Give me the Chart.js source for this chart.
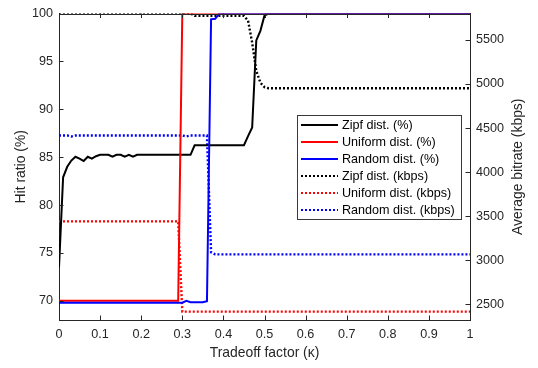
<!DOCTYPE html>
<html><head><meta charset="utf-8">
<script src="https://cdn.jsdelivr.net/npm/chart.js@4"></script>
<style>html,body{margin:0;padding:0;background:#fff;}#wrap{width:538px;height:368px;position:relative;}</style>
</head><body><div id="wrap"><canvas id="c" width="538" height="368"></canvas></div>
<script>
// ---- tick values / labels ----
const xTicks = [0, 0.1, 0.2, 0.3, 0.4, 0.5, 0.6, 0.7, 0.8, 0.9, 1];
const xTickLabels = ['0', '0.1', '0.2', '0.3', '0.4', '0.5', '0.6', '0.7', '0.8', '0.9', '1'];
const hitTicks = [70, 75, 80, 85, 90, 95, 100];
const kbpsTicks = [2500, 3000, 3500, 4000, 4500, 5000, 5500];

// ---- series (tradeoff factor kappa -> value) ----
const zipfHitX = [0, 0.01, 0.02, 0.03, 0.04, 0.05, 0.06, 0.07, 0.08, 0.09, 0.10, 0.12, 0.13, 0.14, 0.15, 0.16, 0.17, 0.18, 0.19, 0.32, 0.33, 0.45, 0.46, 0.47, 0.48, 0.49, 0.50, 0.51, 1.0];
const zipfHitY = [73.5, 82.9, 84.0, 84.65, 85.05, 84.85, 84.6, 85.05, 84.85, 85.1, 85.25, 85.25, 85.05, 85.25, 85.25, 85.05, 85.25, 85.05, 85.25, 85.25, 86.25, 86.25, 87.2, 88.1, 97.2, 98.2, 99.8, 100, 100];

const uniHitX = [0, 0.29, 0.30, 1.0];
const uniHitY = [70.0, 70.0, 100, 100];

const randHitX = [0, 0.30, 0.31, 0.32, 0.35, 0.36, 0.37, 0.38, 0.39, 1.0];
const randHitY = [69.8, 69.8, 70.0, 69.85, 69.85, 69.95, 99.4, 99.45, 100, 100];

const zipfRateX = [0, 0.32, 0.33, 0.45, 0.46, 0.47, 0.48, 0.49, 0.50, 0.51, 1.0];
const zipfRateY = [5800, 5800, 5775, 5775, 5720, 5470, 5150, 5015, 4965, 4952, 4952];

const uniRateX = [0, 0.29, 0.30, 1.0];
const uniRateY = [3440, 3440, 2415, 2415];

const randRateX = [0, 0.02, 0.03, 0.04, 0.30, 0.31, 0.32, 0.36, 0.37, 0.38, 1.0];
const randRateY = [4415, 4415, 4405, 4415, 4415, 4405, 4415, 4415, 3090, 3065, 3065];

const seriesLabels = ['Zipf dist. (%)', 'Uniform dist. (%)', 'Random dist. (%)', 'Zipf dist. (kbps)', 'Uniform dist. (kbps)', 'Random dist. (kbps)'];

const FONT = '"Liberation Sans", Arial, Helvetica, sans-serif';
const AX = '#262626';

function pts(xs, ys) { return xs.map((x, i) => ({x: x, y: ys[i]})); }

function ds(label, xs, ys, color, axis, dotted, order) {
  return {
    label: label, data: pts(xs, ys), borderColor: color, backgroundColor: color,
    borderWidth: dotted ? 2.4 : 2, borderDash: dotted ? [2, 2] : [], pointRadius: 0, tension: 0,
    yAxisID: axis, order: order, fill: false
  };
}

const datasets = [
  ds(seriesLabels[0], zipfHitX, zipfHitY, '#000000', 'yHit', false, 2),
  ds(seriesLabels[1], uniHitX, uniHitY, '#ff0000', 'yHit', false, 1),
  ds(seriesLabels[2], randHitX, randHitY, '#0000ff', 'yHit', false, 0),
  ds(seriesLabels[3], zipfRateX, zipfRateY, '#000000', 'yRate', true, 3),
  ds(seriesLabels[4], uniRateX, uniRateY, '#ff0000', 'yRate', true, 4),
  ds(seriesLabels[5], randRateX, randRateY, '#0000ff', 'yRate', true, 5)
];

const decorPlugin = {
  id: 'decor',
  afterDraw(chart) {
    const ctx = chart.ctx;
    const a = chart.chartArea;
    const sx = chart.scales.x, sl = chart.scales.yHit, sr = chart.scales.yRate;
    const TL = 4.5;
    ctx.save();
    ctx.strokeStyle = AX; ctx.lineWidth = 1; ctx.setLineDash([]);
    // top border
    ctx.beginPath(); ctx.moveTo(a.left, Math.round(a.top) + 0.5); ctx.lineTo(a.right, Math.round(a.top) + 0.5); ctx.stroke();
    // inward ticks
    ctx.beginPath();
    xTicks.forEach(v => {
      const px = Math.round(sx.getPixelForValue(v)) + 0.5;
      ctx.moveTo(px, a.bottom); ctx.lineTo(px, a.bottom - TL);
      ctx.moveTo(px, a.top); ctx.lineTo(px, a.top + TL);
    });
    hitTicks.forEach(v => {
      const py = Math.round(sl.getPixelForValue(v)) + 0.5;
      ctx.moveTo(a.left, py); ctx.lineTo(a.left + TL, py);
    });
    kbpsTicks.forEach(v => {
      const py = Math.round(sr.getPixelForValue(v)) + 0.5;
      ctx.moveTo(a.right, py); ctx.lineTo(a.right - TL, py);
    });
    ctx.stroke();

    // right axis title (reads bottom-to-top)
    ctx.fillStyle = AX;
    ctx.font = '13.9px ' + FONT;
    ctx.textAlign = 'center'; ctx.textBaseline = 'middle';
    ctx.translate(518.5, (a.top + a.bottom) / 2);
    ctx.rotate(-Math.PI / 2);
    ctx.fillText('Average bitrate (kbps)', 0, 0);
    ctx.restore();

    // legend box
    ctx.save();
    const L = 297, T = 115, R = 461, B = 219;
    ctx.fillStyle = '#ffffff';
    ctx.fillRect(L, T, R - L, B - T);
    ctx.strokeStyle = '#3a3a3a'; ctx.lineWidth = 1;
    ctx.strokeRect(L + 0.5, T + 0.5, R - L, B - T);
    ctx.font = '12.6px ' + FONT;
    ctx.textAlign = 'left'; ctx.textBaseline = 'middle';
    chart.data.datasets.forEach((d, i) => {
      const y = 125 + 17 * i;
      ctx.beginPath();
      ctx.setLineDash(d.borderDash || []);
      ctx.lineWidth = 2; ctx.strokeStyle = d.borderColor;
      ctx.moveTo(301, y); ctx.lineTo(338, y); ctx.stroke();
      ctx.setLineDash([]);
      ctx.fillStyle = '#000000';
      ctx.fillText(d.label, 342, y + 0.5);
    });
    ctx.restore();
  }
};

new Chart(document.getElementById('c'), {
  type: 'line',
  data: { datasets: datasets },
  plugins: [decorPlugin],
  options: {
    responsive: false,
    animation: false,
    devicePixelRatio: 1,
    layout: { padding: { top: 12.5, left: 0, right: 0, bottom: 0 } },
    plugins: { legend: { display: false }, tooltip: { enabled: false } },
    scales: {
      x: {
        type: 'linear', min: 0, max: 1,
        afterFit: s => { s.height = 48; },
        afterBuildTicks: s => { s.ticks = xTicks.map(v => ({ value: v })); },
        ticks: { callback: (v, i) => xTickLabels[i], color: AX, font: { family: FONT, size: 12.6 }, padding: 7, maxRotation: 0, autoSkip: false },
        grid: { display: false, drawTicks: false },
        border: { display: true, color: AX, width: 1 },
        title: { display: true, text: 'Tradeoff factor (κ)', color: AX, font: { family: FONT, size: 13.9 }, padding: { top: 0, bottom: 6.4 } }
      },
      yHit: {
        type: 'linear', position: 'left', min: 68, max: 100,
        afterFit: s => { s.width = 59; },
        afterBuildTicks: s => { s.ticks = hitTicks.map(v => ({ value: v })); },
        ticks: { callback: v => String(v), color: AX, font: { family: FONT, size: 12.6 }, padding: 6 },
        grid: { display: false, drawTicks: false },
        border: { display: true, color: AX, width: 1 },
        title: { display: true, text: 'Hit ratio (%)', color: AX, font: { family: FONT, size: 13.9 }, padding: { top: 12.4, bottom: 0 } }
      },
      yRate: {
        type: 'linear', position: 'right', min: 2320, max: 5800,
        afterFit: s => { s.width = 68; },
        afterBuildTicks: s => { s.ticks = kbpsTicks.map(v => ({ value: v })); },
        ticks: { callback: v => String(v), color: AX, font: { family: FONT, size: 12.6 }, padding: 6 },
        grid: { display: false, drawTicks: false },
        border: { display: true, color: AX, width: 1 }
      }
    }
  }
});
</script></body></html>
